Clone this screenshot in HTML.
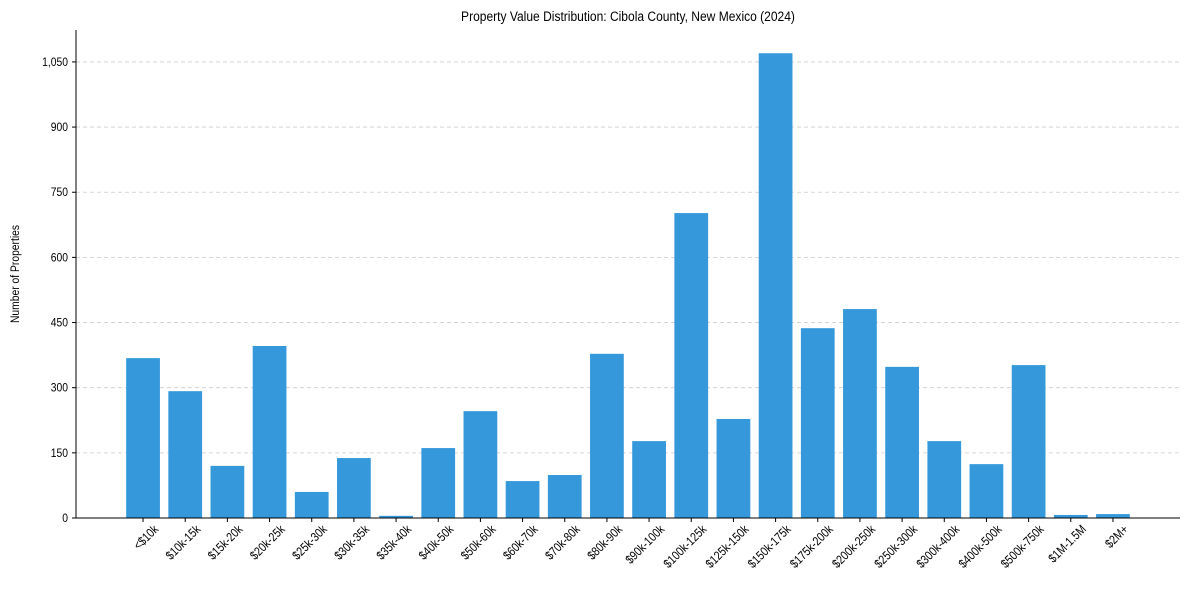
<!DOCTYPE html>
<html><head><meta charset="utf-8"><style>
body{margin:0;background:#fff;font-family:"Liberation Sans",Arial,sans-serif}
svg text{font-family:"Liberation Sans",Arial,sans-serif;fill:#000}
</style></head><body>
<svg id="chart" width="1189" height="590" xmlns="http://www.w3.org/2000/svg">
<text transform="translate(628,21) scale(0.86,1)" font-size="14" text-anchor="middle">Property Value Distribution: Cibola County, New Mexico (2024)</text>
<text transform="translate(19,274) rotate(-90) scale(0.86,1)" font-size="12" text-anchor="middle">Number of Properties</text>
<g id="grid"></g><g id="bars"></g><g id="axes"></g>
</svg>
<script>
const categories=["<$10k","$10k-15k","$15k-20k","$20k-25k","$25k-30k","$30k-35k","$35k-40k","$40k-50k","$50k-60k","$60k-70k","$70k-80k","$80k-90k","$90k-100k","$100k-125k","$125k-150k","$150k-175k","$175k-200k","$200k-250k","$250k-300k","$300k-400k","$400k-500k","$500k-750k","$1M-1.5M","$2M+"];
const values=[368,292,120,396,60,138,5,161,246,85,99,378,177,702,228,1070,437,481,348,177,124,352,7,9];
const yTicks=[0,150,300,450,600,750,900,1050];
const yTickLabels=["0","150","300","450","600","750","900","1,050"];
const NS="http://www.w3.org/2000/svg";
const L=76,R=1180,T=30,B=518;
const yMax=Math.max(...values)*1.05;
const xMin=-0.4-0.05*(categories.length-0.2),xMax=categories.length-0.6+0.05*(categories.length-0.2);
const xs=i=>L+(i-xMin)/(xMax-xMin)*(R-L);
const ys=v=>B-v/yMax*(B-T);
const bw=0.8*(R-L)/(xMax-xMin);
function mk(t,a,p){const e=document.createElementNS(NS,t);for(const k in a)e.setAttribute(k,a[k]);p.appendChild(e);return e;}
const grid=document.getElementById('grid'),bars=document.getElementById('bars'),axes=document.getElementById('axes');
yTicks.forEach((v,i)=>{
 const y=ys(v);
 if(v>0){const g=mk('line',{x1:L,x2:R,y1:y,y2:y,stroke:'#ccc','stroke-dasharray':'4,3','stroke-width':0.8},grid);
 
 }
 mk('line',{x1:L-4,x2:L,y1:y,y2:y,stroke:'#000'},axes);
 const t=mk('text',{transform:`translate(${L-8},${y+4}) scale(0.86,1)`,'font-size':12,'text-anchor':'end'},axes);t.textContent=yTickLabels[i];
 
 
});
categories.forEach((c,i)=>{
 const x=xs(i),y=ys(values[i]);
 const r=mk('rect',{x:x-bw/2,y:y,width:bw,height:B-y,fill:'#3498db'},bars);
 
 
 mk('line',{x1:x,x2:x,y1:B,y2:B+4,stroke:'#000'},axes);
 const t=mk('text',{transform:`translate(${x+16},${B+12}) rotate(-45) scale(0.84,1)`,'font-size':12.5,'text-anchor':'end'},axes);t.textContent=c;
 
 
});
const ya=mk('line',{x1:L,x2:L,y1:T,y2:B,stroke:'#000'},axes);


const xa=mk('line',{x1:L,x2:R,y1:B,y2:B,stroke:'#000'},axes);


</script>
</body></html>
